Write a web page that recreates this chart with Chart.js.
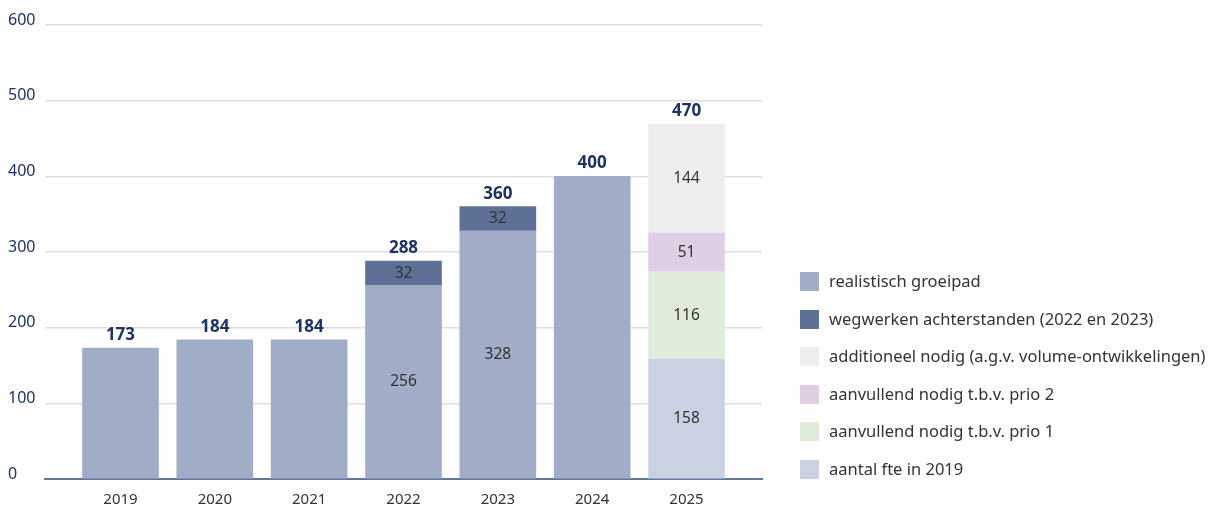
<!DOCTYPE html>
<html>
<head>
<meta charset="utf-8">
<script src="https://cdn.jsdelivr.net/npm/chart.js@4.4.1/dist/chart.umd.min.js"></script>
<style>
  html, body { margin: 0; padding: 0; background: #fff; }
  #wrap { position: relative; width: 1225px; height: 512px; }
  #legend { position: absolute; left: 800px; top: 272px; font-family: "Noto Sans", sans-serif; font-size: 16.5px; color: #333; }
  .item { position: relative; height: 37.5px; }
  .sw { position: absolute; left: 0; top: 0; width: 19px; height: 19px; }
  .lbl { position: absolute; left: 29px; top: -2px; line-height: 22px; white-space: nowrap; }
</style>
</head>
<body>
<div id="wrap">
  <canvas id="c" width="1225" height="512"></canvas>
  <div id="legend"></div>
</div>
<script>
// ---- data ----
const categories = ["2019", "2020", "2021", "2022", "2023", "2024", "2025"];
const realistischGroeipad = [173, 184, 184, 256, 328, 400, null];
const wegwerkenAchterstanden = [null, null, null, 32, 32, null, null];
const aantalFte2019 = [null, null, null, null, null, null, 158];
const aanvullendPrio1 = [null, null, null, null, null, null, 116];
const aanvullendPrio2 = [null, null, null, null, null, null, 51];
const additioneelNodig = [null, null, null, null, null, null, 144];
const totals = [173, 184, 184, 288, 360, 400, 470];
const yTicks = [0, 100, 200, 300, 400, 500, 600];

const FONT = '"Noto Sans", sans-serif';
const NAVY = '#1d3263';

const series = [
  { label: "realistisch groeipad", values: realistischGroeipad, color: "#a1acc7" },
  { label: "wegwerken achterstanden (2022 en 2023)", values: wegwerkenAchterstanden, color: "#5f7097" },
  { label: "aantal fte in 2019", values: aantalFte2019, color: "#cad1e2" },
  { label: "aanvullend nodig t.b.v. prio 1", values: aanvullendPrio1, color: "#e0ecd9" },
  { label: "aanvullend nodig t.b.v. prio 2", values: aanvullendPrio2, color: "#e0cee4" },
  { label: "additioneel nodig (a.g.v. volume-ontwikkelingen)", values: additioneelNodig, color: "#ededed" }
];
const legendOrder = [0, 1, 5, 4, 3, 2];

const datasets = series.map(s => ({
  label: s.label,
  data: s.values.map((v, i) => ({ x: i, y: v })),
  backgroundColor: s.color,
  borderWidth: 0,
  barThickness: 76
}));

const labelPlugin = {
  id: 'barLabels',
  afterDatasetsDraw(chart) {
    const ctx = chart.ctx;
    const xs = chart.scales.x, ys = chart.scales.y;
    ctx.save();
    ctx.textAlign = 'center';
    ctx.textBaseline = 'middle';
    ctx.font = '15.5px ' + FONT;
    ctx.fillStyle = '#333333';
    categories.forEach((c, i) => {
      const segs = chart.data.datasets.filter(ds => ds.data[i].y != null).length;
      if (segs < 2) return;
      chart.data.datasets.forEach((ds, di) => {
        const v = ds.data[i].y;
        if (v == null) return;
        const bar = chart.getDatasetMeta(di).data[i];
        ctx.fillText(String(v), bar.x, (bar.y + bar.base) / 2);
      });
    });
    ctx.font = 'bold 17px ' + FONT;
    ctx.fillStyle = NAVY;
    ctx.textBaseline = 'alphabetic';
    categories.forEach((c, i) => {
      let sum = 0;
      chart.data.datasets.forEach(ds => { if (ds.data[i].y != null) sum += ds.data[i].y; });
      ctx.fillText(String(totals[i]), xs.getPixelForValue(i), ys.getPixelForValue(sum) - 8);
    });
    ctx.restore();
  }
};

new Chart(document.getElementById('c'), {
  type: 'bar',
  data: { datasets },
  options: {
    responsive: false,
    animation: false,
    layout: { padding: { left: 8, right: 463, top: 25, bottom: 3 } },
    plugins: { legend: { display: false }, tooltip: { enabled: false } },
    scales: {
      x: {
        type: 'linear',
        offset: false,
        stacked: true,
        min: -0.8,
        max: 6.8,
        afterBuildTicks: s => { s.ticks = categories.map((c, i) => ({ value: i })); },
        afterFit: s => { s.height = 30; s.paddingLeft = 0; s.paddingRight = 0; },
        grid: { display: false, drawTicks: false },
        border: { display: true, color: '#63759b', width: 2 },
        ticks: {
          autoSkip: false,
          maxRotation: 0,
          padding: 12,
          color: '#333333',
          font: { family: FONT, size: 15 },
          callback: v => categories[v]
        }
      },
      y: {
        stacked: true,
        min: 0,
        max: 600,
        afterBuildTicks: s => { s.ticks = yTicks.map(v => ({ value: v })); },
        afterFit: s => { s.width = 37; s.paddingTop = 0; s.paddingBottom = 0; },
        grid: { color: '#dedede', lineWidth: 1.5, drawTicks: false },
        border: { display: false },
        ticks: {
          crossAlign: 'far',
          labelOffset: -5,
          padding: 0,
          color: NAVY,
          font: { family: FONT, size: 16 }
        }
      }
    }
  },
  plugins: [labelPlugin]
});

const legend = document.getElementById('legend');
legendOrder.forEach(k => {
  const s = series[k];
  const item = document.createElement('div');
  item.className = 'item';
  item.innerHTML = '<span class="sw" style="background:' + s.color + '"></span><span class="lbl"></span>';
  item.querySelector('.lbl').textContent = s.label;
  legend.appendChild(item);
});
</script>
</body>
</html>
